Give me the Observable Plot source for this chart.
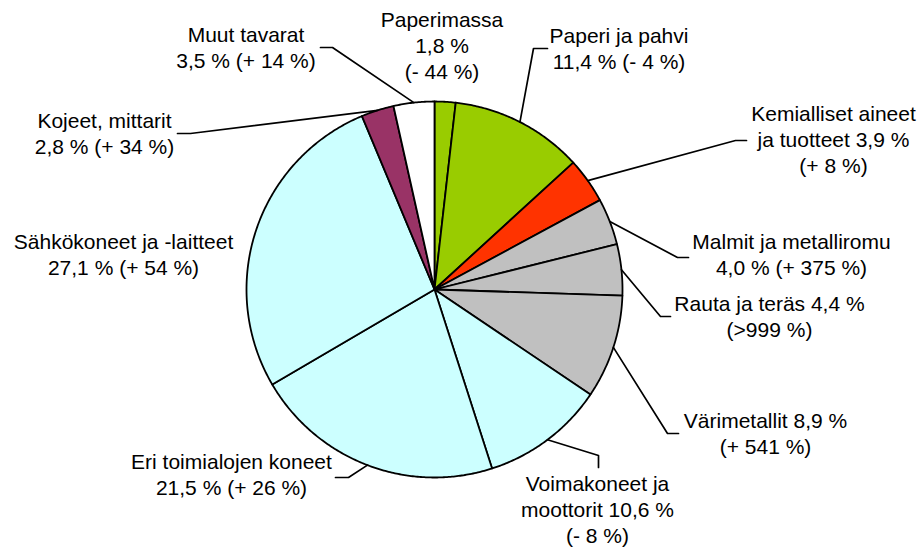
<!DOCTYPE html>
<html>
<head>
<meta charset="utf-8">
<script src="https://cdn.jsdelivr.net/npm/d3@7"></script>
<script src="https://cdn.jsdelivr.net/npm/@observablehq/plot@0.6"></script>
<style>
  html, body { margin: 0; padding: 0; background: #ffffff; }
  #chart svg { display: block; background: #ffffff; }
</style>
</head>
<body>
<div id="chart"></div>
<script>
// ---- data ----
const categories = [
  "Paperimassa",
  "Paperi ja pahvi",
  "Kemialliset aineet\nja tuotteet",
  "Malmit ja metalliromu",
  "Rauta ja teräs",
  "Värimetallit",
  "Voimakoneet ja\nmoottorit",
  "Eri toimialojen koneet",
  "Sähkökoneet ja -laitteet",
  "Kojeet, mittarit",
  "Muut tavarat"
];
const shares = [1.8, 11.4, 3.9, 4.0, 4.4, 8.9, 10.6, 21.5, 27.1, 2.8, 3.5];
const changes = ["- 44 %", "- 4 %", "+ 8 %", "+ 375 %", ">999 %", "+ 541 %", "- 8 %", "+ 26 %", "+ 54 %", "+ 34 %", "+ 14 %"];
const colors = ["#99CC00", "#99CC00", "#FF3300", "#C0C0C0", "#C0C0C0", "#C0C0C0",
                "#CCFFFF", "#CCFFFF", "#CCFFFF", "#993366", "#FFFFFF"];

// ---- layout (label placement, leader elbows) ----
const labelStyle = [2, 0, 1, 0, 1, 1, 1, 0, 0, 0, 0];
const labelX = [441.5, 618.5, 833, 791, 769, 765, 597, 231, 123, 104, 245.5];
const labelBaseline = [26, 42, 120, 248, 310, 427, 490, 468, 248, 127, 41];
// leader: [elbowX, elbowY, endX, endY] or null
const leaders = [
  null,
  [533, 48, 547, 48],
  [735, 140, 746, 140],
  [677, 257, 688, 257],
  [660, 316, 670, 316],
  [667, 433, 678, 433],
  [598, 455, 598, 467],
  [348, 477, 335, 477],
  null,
  [190, 133, 177, 133],
  [332, 47, 320, 47]
];
const cx = 434, cy = 289, R = 188;
const fontSize = 21, lineGap = 26;

const rows = categories.map((name, i) => ({i, name, share: shares[i], change: changes[i], color: colors[i]}));
const arcs = d3.pie().sort(null).value(d => d.share)(rows);

const fmt = v => v.toFixed(1).replace(".", ",");
function labelText(d) {
  const s = fmt(d.share);
  const st = labelStyle[d.i];
  if (st === 0) return `${d.name}\n${s} % (${d.change})`;
  if (st === 1) return `${d.name} ${s} %\n(${d.change})`;
  return `${d.name}\n${s} %\n(${d.change})`;
}

// slice polygons
const slicePts = [];
arcs.forEach(a => {
  const d = a.data;
  slicePts.push({i: d.i, x: cx, y: cy, color: d.color});
  const n = Math.max(4, Math.ceil((a.endAngle - a.startAngle) / (Math.PI / 360)));
  for (let k = 0; k <= n; k++) {
    const t = a.startAngle + (a.endAngle - a.startAngle) * k / n;
    slicePts.push({i: d.i, x: cx + R * Math.sin(t), y: cy - R * Math.cos(t), color: d.color});
  }
  slicePts.push({i: d.i, x: cx, y: cy, color: d.color});
});

// leader lines: from slice mid-angle on the rim to elbow to end
const leaderPts = [];
arcs.forEach(a => {
  const L = leaders[a.data.i];
  if (!L) return;
  const m = (a.startAngle + a.endAngle) / 2;
  leaderPts.push({i: a.data.i, x: cx + R * Math.sin(m), y: cy - R * Math.cos(m)});
  leaderPts.push({i: a.data.i, x: L[0], y: L[1]});
  leaderPts.push({i: a.data.i, x: L[2], y: L[3]});
});

const labels = rows.map(d => ({
  x: labelX[d.i],
  y: labelBaseline[d.i] - 0.71 * fontSize - 3.5,
  text: labelText(d)
}));

const chart = Plot.plot({
  width: 920,
  height: 548,
  margin: 0,
  style: {fontFamily: "Arial, 'Liberation Sans', sans-serif", background: "#ffffff"},
  x: {domain: [0, 920], range: [0, 920], axis: null},
  y: {domain: [0, 548], range: [0, 548], axis: null},
  color: {type: "identity"},
  marks: [
    Plot.line(slicePts, {x: "x", y: "y", z: "i", fill: "color", stroke: "#000000", strokeWidth: 1.8, strokeLinejoin: "round"}),
    Plot.line(leaderPts, {x: "x", y: "y", z: "i", stroke: "#000000", strokeWidth: 1.7}),
    Plot.text(labels, {x: "x", y: "y", text: "text", fontSize: fontSize, lineAnchor: "top",
      lineHeight: lineGap / fontSize, textAnchor: "middle", fill: "#000000"})
  ]
});
document.getElementById("chart").appendChild(chart);
</script>
</body>
</html>
